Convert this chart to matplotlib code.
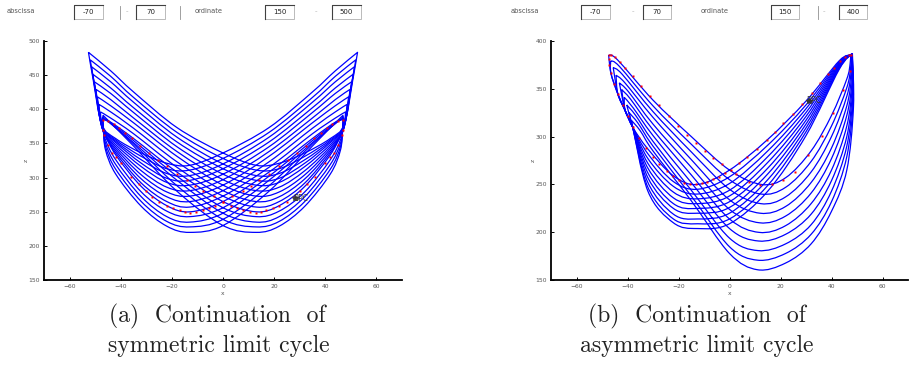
import numpy as np
import matplotlib
matplotlib.use("Agg")
import matplotlib.pyplot as plt
from matplotlib.path import Path
from matplotlib.patches import PathPatch, Rectangle
from matplotlib.lines import Line2D

# ---------------- data: panel (a) symmetric cycles (left half, mirrored) ----------------
a_tip_x = [-47.0, -47.1, -47.2, -47.3, -47.4, -48.0, -48.6, -49.2, -49.8, -50.4, -51.0, -51.5, -52.0, -52.7]
a_tip_z = [391, 389, 387, 386, 385, 396, 407, 418, 429, 440, 451, 462, 472, 483]
a_up_x = [-44, -35, -18]
a_up0_z = [380, 379, 379, 380, 381, 387, 396, 405, 414, 423, 431, 440, 448, 456]
a_up1_z = [346, 349, 351, 354, 357, 364, 372, 380, 387, 395, 402, 410, 417, 425]
a_up2_z = [280, 288, 296, 302, 308, 315, 323, 331, 338, 345, 352, 359, 366, 373]
a_cross_z = [230, 239, 248, 256, 265, 273, 281, 289, 297, 305, 313, 320, 328, 336]
a_min_x = 13
a_min_z = [220, 228, 235, 243, 250, 257, 265, 273, 281, 289, 296, 303, 311, 318]
a_lo_x = [-22, -32, -42]
a_lo1_z = [229, 236, 243, 251, 259, 265, 272, 279, 286, 293, 299, 306, 313, 321]
a_lo2_z = [258, 265, 272, 279, 287, 292, 298, 304, 310, 316, 321, 326, 331, 336]
a_lo3_z = [305, 312, 319, 326, 333, 336, 339, 342, 345, 348, 351, 353, 355, 357]
a_s1_x = [-46.0, -46.0, -46.0, -46.0, -46.0, -46.3, -46.5, -46.7, -46.9, -47.1, -47.2, -47.3, -47.4, -47.5]
a_s1_z = [340, 345, 350, 355, 362, 362, 364, 366, 368, 370, 372, 374, 376, 378]
a_s2_x = [-46.8, -46.9, -47.0, -47.1, -47.1, -47.6, -48.0, -48.4, -48.8, -49.2, -49.6, -50.0, -50.4, -50.9]
a_s2_z = [370, 372, 374, 376, 377, 380, 388, 396, 404, 412, 420, 428, 436, 444]
# red mesh points of the starting cycle (left half, mirrored)
a_red_x = [-47.2, -45.0, -42.8, -40.9, -38.3, -35.7, -32.4, -28.8, -25.6, -21.9, -18.0, -14.1, -10.9, -7.9, -3.5, 0.0,
           -47.1, -46.5, -45.2, -43.5, -42.0, -40.0, -36.0, -33.0, -30.0, -28.0, -25.0, -22.0, -19.5, -17.0, -15.0, -13.0, -10.5, -8.0, -5.5, -3.0]
a_red_z = [384, 383, 379, 372, 365, 357.6, 346, 336, 325.7, 317, 305, 296.5, 287.8, 281, 273.6, 264.8,
           369.5, 362, 347.6, 335.5, 330, 322, 301, 290, 281, 272, 265, 259, 255, 252, 250, 249, 250, 252, 255, 258]

# ---------------- data: panel (b) asymmetric cycles ----------------
b_ltip_x = [-47.4, -46.6, -45.6, -44.5, -43.2, -42.3, -41.3, -40.3, -39.4, -38.5]
b_ltip_z = [385, 379, 372, 364, 356, 349, 341, 333, 325, 317]
b_lup0_x = [-43.9, -43.1, -42.1, -41.0, -39.7, -38.8, -37.8, -36.8, -35.9, -35.0]
b_lup0_z = [380, 373, 365, 356, 347, 339, 330, 322, 314, 306]
b_lup_x = [-30, -15]
b_lup1_z = [338, 332, 326, 320, 313, 307, 301, 295, 290, 285]
b_lup2_z = [300, 292, 284, 276, 268, 260, 252, 244, 238, 233]
b_lcross_z = [265, 255, 245, 234, 224, 214, 204, 194, 185, 178]
b_rmin_x = [12.5, 12.3, 12.2, 12.0, 11.8, 11.6, 11.4, 11.2, 11.0, 11.0]
b_rmin_z = [250, 240, 230, 220, 210, 200, 191, 181, 171, 161]
b_rlo_x = [22, 32, 40, 46]
b_rlo1_z = [257, 247, 237, 227, 217, 207, 198, 188, 178, 168]
b_rlo2_z = [285, 274, 263, 252, 241, 230, 219, 208, 198, 188]
b_rlo3_z = [322, 311, 300, 288, 277, 265, 254, 243, 232, 222]
b_rlo4_z = [360, 351, 342, 332, 322, 311, 300, 290, 279, 265]
b_rs_x = [47.3, 47.5, 47.7, 47.9, 48.1, 48.2, 48.3, 48.4, 48.5, 48.6]
b_rs_z = [376, 372, 368, 364, 359, 354, 349, 343, 337, 330]
b_rtip_x = [47.5, 47.6, 47.7, 47.8, 47.9, 48.0, 48.0, 48.1, 48.1, 48.2]
b_rtip_z = [385, 385, 385.5, 385.5, 386, 386, 386, 386.5, 386.5, 386.5]
b_rup_x = [43, 30, 15]
b_rup0_z = [379, 378, 377, 376, 375, 374, 373, 372, 371, 370]
b_rup1_z = [337, 333, 329, 325, 321, 317, 313, 309, 305, 301]
b_rup2_z = [297, 291, 285, 279, 273, 267, 261, 255, 249, 243]
b_rcross_z = [265, 258, 251, 244, 238, 232, 226, 220, 214, 209]
b_lmin_x = -12.5
b_lmin_z = [250, 245, 240, 235, 230, 225, 220, 214, 209, 204]
b_llo_x = [-22, -32]
b_llo1_z = [259, 253, 248, 242, 236, 230, 225, 219, 214, 210]
b_llo2_z = [287, 282, 277, 272, 267, 262, 257, 252, 247, 243]
b_band_x = [-38.0, -40.9, -43.8, -46.5]
b_band_z = [310, 327, 344.5, 366]
b_red_x = [-47.4, -46.5, -44.8, -42.9, -40.9, -38.0, -34.6, -31.2, -27.8, -23.8, -20.3, -16.8, -13.1, -9.6, -6.4, -3.0, 0.4,
           3.7, 7.0, 10.7, 14.6, 17.8, 21.1, 24.8, 28.5, 32.2, 35.5, 38.7, 41.0, 43.3, 45.3, 47.0,
           47.5, 47.3, 44.6, 40.7, 36.2, 30.9, 25.7, 20.9, 16.5, 12.0, 7.8, 2.5,
           -1.8, -4.0, -6.3, -8.9, -10.9, -13.1, -15.5, -17.7, -19.9, -22.3, -24.6, -27.5, -30.1, -32.7, -35.4,
           -38.0, -39.9, -41.9, -43.8, -45.2, -46.5, -47.4, -47.4]
b_red_z = [385.2, 385.5, 382.8, 378, 372, 363, 352.8, 342, 332.7, 321.5, 311, 301.7, 293.6, 285, 277.3, 271.4, 265,
           272, 279, 287, 296, 305, 313.9, 323.6, 334, 345, 355.6, 365, 372, 379, 383.5, 385.5,
           385, 368.8, 348.6, 325, 300.6, 280.8, 263, 254.7, 250.5, 249.8, 253, 261,
           262.3, 258, 255.4, 252.6, 251.2, 250.5, 250.5, 252, 254.7, 259, 264.4, 271, 279, 288, 298,
           310, 321.5, 333, 344.5, 355, 366, 375, 380.7]

# axis settings
x_ticks = [-60, -40, -20, 0, 20, 40, 60]
a_z_ticks = [150, 200, 250, 300, 350, 400, 450, 500]
b_z_ticks = [150, 200, 250, 300, 350, 400]
a_fields = ["-70", "70", "150", "500"]
b_fields = ["-70", "70", "150", "400"]

BLUE = "#0000ff"
W, H = 913, 365


def closed_path(pts, corners):
    """Closed smooth path through key points (cubic Bezier, corners kept sharp)."""
    pts = [np.asarray(p, float) for p in pts]
    n = len(pts)
    verts = [pts[0]]
    codes = [Path.MOVETO]
    for i in range(n):
        p1 = pts[i]
        p2 = pts[(i + 1) % n]
        p0 = p1 if i in corners else pts[i - 1]
        p3 = p2 if ((i + 1) % n) in corners else pts[(i + 2) % n]
        verts += [p1 + (p2 - p0) / 6.0, p2 - (p3 - p1) / 6.0, p2]
        codes += [Path.CURVE4] * 3
    return Path(verts, codes)


def style_axes(ax, zticks):
    ax.set_xlim(-70, 70)
    ax.set_ylim(zticks[0], zticks[-1])
    ax.set_xticks(x_ticks)
    ax.set_yticks(zticks)
    ax.set_xticklabels([str(t).replace("-", "\u2212") for t in x_ticks])
    for s in ("top", "right"):
        ax.spines[s].set_visible(False)
    for s in ("left", "bottom"):
        ax.spines[s].set_linewidth(1.3)
    ax.tick_params(direction="in", length=2.5, width=0.7, labelsize=4.3,
                   labelcolor="#555555", pad=3)
    ax.set_xlabel("x", fontsize=4.3, color="#555555", labelpad=1)
    ax.set_ylabel("z", fontsize=4.3, color="#555555", labelpad=0)


fig = plt.figure(figsize=(W / 100, H / 100), dpi=100)


def fx(px):
    return px / W


def fy(py):
    return 1 - py / H


axa = fig.add_axes([fx(44.3), fy(280.3), 357.4 / W, 239.6 / H])
axb = fig.add_axes([fx(551), fy(280.3), 357 / W, 239.6 / H])
style_axes(axa, a_z_ticks)
style_axes(axb, b_z_ticks)

# ---- panel (a) loops ----
for i in range(len(a_tip_z)):
    left_up = [(a_up_x[0], a_up0_z[i]), (a_up_x[1], a_up1_z[i]), (a_up_x[2], a_up2_z[i])]
    left_lo = [(a_lo_x[0], a_lo1_z[i]), (a_lo_x[1], a_lo2_z[i]), (a_lo_x[2], a_lo3_z[i]),
               (a_s1_x[i], a_s1_z[i]), (a_s2_x[i], a_s2_z[i])]
    half1 = [(a_tip_x[i], a_tip_z[i])] + left_up + [(0, a_cross_z[i]), (a_min_x, a_min_z[i])] + \
            [(-x, z) for x, z in left_lo]
    half2 = [(-a_tip_x[i], a_tip_z[i])] + [(-x, z) for x, z in left_up] + \
            [(0, a_cross_z[i]), (-a_min_x, a_min_z[i])] + left_lo
    pts = half1 + half2
    axa.add_patch(PathPatch(closed_path(pts, {0, len(half1)}), facecolor="none",
                            edgecolor=BLUE, lw=0.9, joinstyle="round"))
ax_red_x = a_red_x + [-v for v in a_red_x]
ax_red_z = a_red_z + a_red_z
axa.plot(ax_red_x, ax_red_z, ls="none", marker="s", ms=1.7, mec="none", mfc="#ff0000")
axa.plot([28.3], [270], ls="none", marker="*", ms=4, color="#444444")
axa.text(27.5, 270, "BPC", fontsize=5.5, color="#333333", va="center")

# ---- panel (b) loops ----
for j in range(len(b_ltip_z)):
    pts = [(b_ltip_x[j], b_ltip_z[j]), (b_lup0_x[j], b_lup0_z[j]),
           (b_lup_x[0], b_lup1_z[j]), (b_lup_x[1], b_lup2_z[j]), (0, b_lcross_z[j]),
           (b_rmin_x[j], b_rmin_z[j]),
           (b_rlo_x[0], b_rlo1_z[j]), (b_rlo_x[1], b_rlo2_z[j]), (b_rlo_x[2], b_rlo3_z[j]),
           (b_rlo_x[3], b_rlo4_z[j]), (b_rs_x[j], b_rs_z[j])]
    rt = len(pts)
    pts += [(b_rtip_x[j], b_rtip_z[j]),
            (b_rup_x[0], b_rup0_z[j]), (b_rup_x[1], b_rup1_z[j]), (b_rup_x[2], b_rup2_z[j]),
            (0, b_rcross_z[j]), (b_lmin_x, b_lmin_z[j]),
            (b_llo_x[0], b_llo1_z[j]), (b_llo_x[1], b_llo2_z[j])]
    for bx, bz in zip(b_band_x, b_band_z):
        if bz < b_ltip_z[j] - 12:
            pts.append((bx, bz))
    axb.add_patch(PathPatch(closed_path(pts, {0, rt}), facecolor="none",
                            edgecolor=BLUE, lw=0.9, joinstyle="round"))
axb.plot(b_red_x, b_red_z, ls="none", marker="s", ms=1.7, mec="none", mfc="#ff0000")
axb.plot([31.0], [337.5], ls="none", marker="*", ms=4, color="#333333")
axb.text(30.0, 337.5, "BPC", fontsize=5.5, color="#333333", va="center")

# ---- top strip (layout controls) ----
def field(x0, x1, label):
    y0, y1 = 5, 19
    fig.patches.append(Rectangle((fx(x0), fy(y1)), fx(x1 - x0), (y1 - y0) / H,
                                 transform=fig.transFigure, facecolor="white",
                                 edgecolor="#b0b0b0", lw=0.6))
    fig.lines.append(Line2D([fx(x0), fx(x0), fx(x1)], [fy(y1), fy(y0), fy(y0)],
                            transform=fig.transFigure, color="#404040", lw=0.8))
    fig.text(fx((x0 + x1) / 2), fy(12), label, fontsize=5, color="#222222",
             ha="center", va="center")


def bar(x):
    fig.lines.append(Line2D([fx(x), fx(x)], [fy(6), fy(19)], transform=fig.transFigure,
                            color="#909090", lw=0.6))


def strip(fields, xs, bars, dashes, labels):
    for (x0, x1), lab in zip(xs, fields):
        field(x0, x1, lab)
    for b in bars:
        bar(b)
    for d in dashes:
        fig.text(fx(d), fy(12), "--", fontsize=3.5, color="#aaaaaa", ha="center", va="center")
    for x, t in labels:
        fig.text(fx(x), fy(11), t, fontsize=4.8, color="#555555", ha="left", va="center")


strip(a_fields, [(74, 103), (136, 165), (265, 294), (332, 361)], [120, 180], [128, 317],
      [(7, "abscissa"), (195, "ordinate")])
strip(b_fields, [(581, 610), (643, 671), (771, 799), (839, 867)], [818], [634, 825],
      [(511, "abscissa"), (701, "ordinate")])

# ---- captions (first line justified, as in the LaTeX sub-caption) ----
cap = dict(fontsize=17, family="cmr10", ha="center", va="center", color="#222222")
fig.text(fx(217), fy(316), "(a)  Continuation  of", **cap)
fig.text(fx(218.5), fy(346), "symmetric limit cycle", **cap)
fig.text(fx(697), fy(316), "(b)  Continuation  of", **cap)
fig.text(fx(697), fy(346), "asymmetric limit cycle", **cap)

fig.savefig("out.png", dpi=100)
